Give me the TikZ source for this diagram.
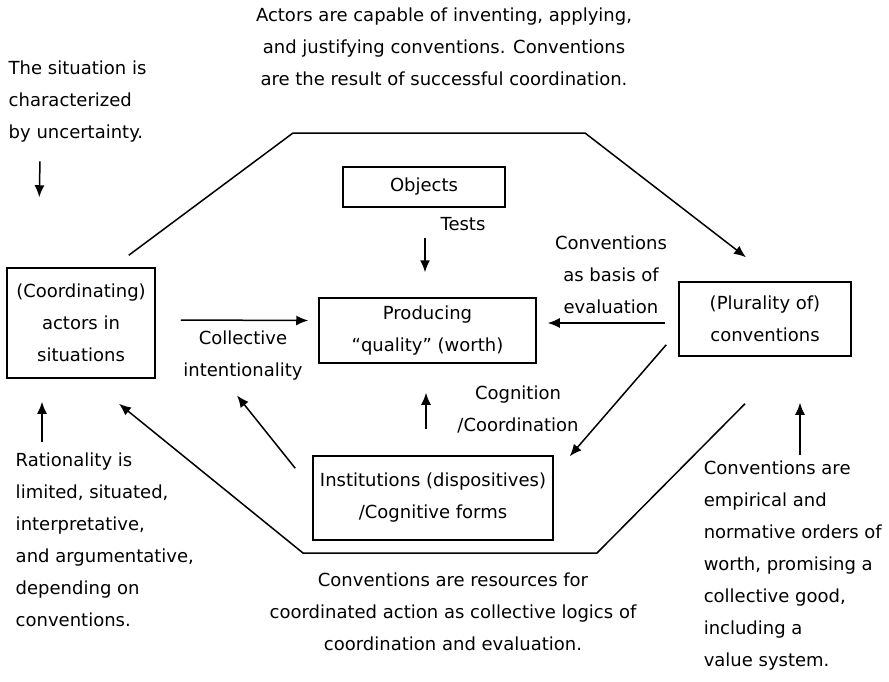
\documentclass[tikz,border=0pt]{standalone}
\usepackage{fontspec}
\setmainfont{DejaVu Sans}
\usetikzlibrary{arrows.meta}

\begin{document}
\begin{tikzpicture}[x=1pt, y=-1pt, line width=1.5pt,
    >={Latex[length=12pt,width=10pt]},
    every node/.style={font=\fontsize{18}{32}\selectfont},
    box/.style={draw, align=center, inner sep=0pt},
    txt/.style={align=center, inner sep=0pt},
    txtl/.style={align=left, inner sep=0pt, anchor=west}]
    \useasboundingbox (0,0) rectangle (889,681);
    % boxes
    \node[box, minimum width=148pt, minimum height=110pt](actors) at (81,323){(Coordinating)\\actors in\\situations};
    \node[box, minimum width=162pt, minimum height=40pt](objects) at (424,187){Objects};
    \node[box, minimum width=217pt, minimum height=65pt](producing) at (427.5,330.5){Producing\\“quality” (worth)};
    \node[box, minimum width=172pt, minimum height=74pt](plurality) at (765,319){(Plurality of)\\conventions};
    \node[box, minimum width=240pt, minimum height=84pt](institutions) at (433,498){Institutions (dispositives)\\/Cognitive forms};
    % texts
    \node[txt](topTxt) at (444,47){Actors are capable of inventing, applying,\\and justifying conventions. Conventions\\are the result of successful coordination.};
    \node[txtl](sitTxt) at (8,102){The situation is\\characterized\\by uncertainty.};
    \node[txtl](ratTxt) at (15,540){Rationality is\\limited, situated,\\interpretative,\\and argumentative,\\depending on\\conventions.};
    \node[txt](resTxt) at (453,612){Conventions are resources for\\coordinated action as collective logics of\\coordination and evaluation.};
    \node[txtl](worthTxt) at (703,566){Conventions are\\empirical and\\normative orders of\\worth, promising a\\collective good,\\including  a\\value system.};
    \node[txt](tests) at (463,224){Tests};
    \node[txt](collTxt) at (243,356){Collective\\intentionality};
    \node[txt](basisTxt) at (611,275){Conventions\\as basis of\\evaluation};
    \node[txt](cogTxt) at (518,409){Cognition\\/Coordination};
    % corners of the big frame
    \coordinate (tl) at (293,133);
    \coordinate (tr) at (585,133);
    \coordinate (bl) at (303,553);
    \coordinate (br) at (597,553);
    % connectors
    \path[->] ([shift={(32pt,-18pt)}]sitTxt.south west) edge ([shift={(33pt,70pt)}]actors.north west)
    ([shift={(27pt,10pt)}]ratTxt.north west) edge ([shift={(-39pt,-23pt)}]actors.south)
    ([shift={(97pt,6pt)}]worthTxt.north west) edge ([shift={(35pt,-46pt)}]plurality.south)
    ([shift={(25pt,3pt)}]actors.east) edge ([shift={(-10pt,10pt)}]producing.west)
    ([shift={(1pt,-30pt)}]objects.south) edge ([shift={(-2.5pt,25pt)}]producing.north)
    ([shift={(-13pt,-4pt)}]plurality.west) edge ([shift={(11pt,7.5pt)}]producing.east)
    ([shift={(-12pt,12pt)}]plurality.south west) edge ([shift={(16pt,-1pt)}]institutions.north east)
    ([shift={(-7pt,26pt)}]institutions.north) edge ([shift={(-1.5pt,-29pt)}]producing.south)
    ([shift={(-17pt,-13pt)}]institutions.north west) edge ([shift={(-6pt,-14pt)}]collTxt.south);
    \draw[->] ([shift={(-27pt,12pt)}]actors.north east) -- (tl) -- (tr) -- ([shift={(-19pt,24pt)}]plurality.north);
    \draw[->] ([shift={(-20pt,-47pt)}]plurality.south) -- (br) -- (bl) -- ([shift={(38pt,-25pt)}]actors.south);
\end{tikzpicture}
\end{document}
